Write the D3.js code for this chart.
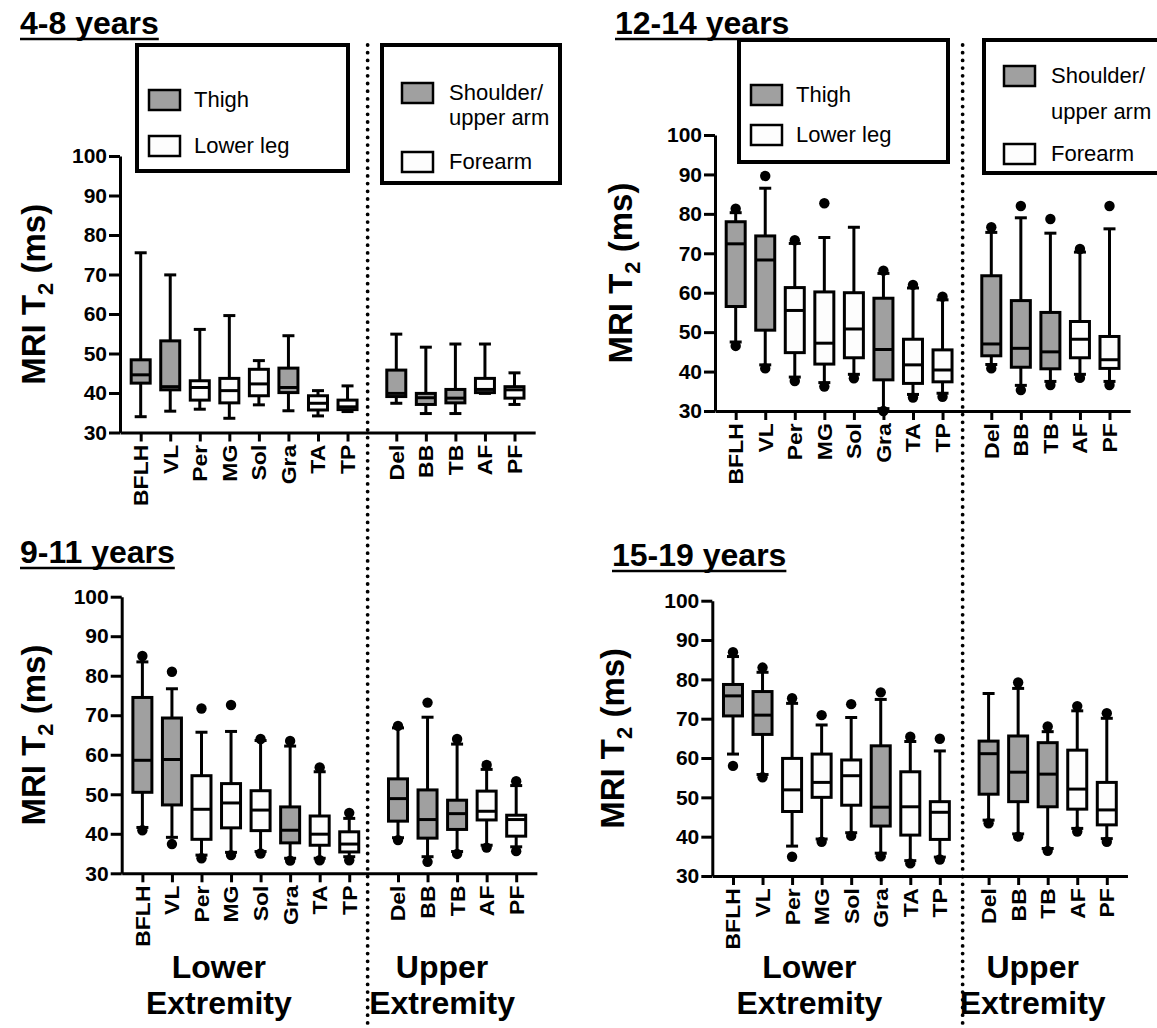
<!DOCTYPE html>
<html>
<head>
<meta charset="utf-8">
<script src="https://cdn.jsdelivr.net/npm/d3@7"></script>
<style>
  body { margin: 0; background: #fff; }
  svg { display: block; font-family: "Liberation Sans", Arial, sans-serif; }
</style>
</head>
<body>
<svg id="chart" width="1157" height="1028"></svg>
<script>
// Categories
const lowerMuscles = ['BFLH', 'VL', 'Per', 'MG', 'Sol', 'Gra', 'TA', 'TP'];
const upperMuscles = ['Del', 'BB', 'TB', 'AF', 'PF'];
const lowerGroup = ['Thigh', 'Thigh', 'Lower leg', 'Lower leg', 'Lower leg', 'Thigh', 'Lower leg', 'Lower leg'];
const upperGroup = ['Shoulder', 'Shoulder', 'Shoulder', 'Forearm', 'Forearm'];
const yTicks = [30, 40, 50, 60, 70, 80, 90, 100];

// Box stats per muscle: [dotLow, whiskerLow, q1, median, q3, whiskerHigh, dotHigh]
const age4to8 = [
  [null, 34.0, 42.5, 44.6, 48.4, 75.5, null],
  [null, 35.4, 40.8, 41.6, 53.2, 69.9, null],
  [null, 35.9, 38.2, 41.4, 43.1, 56.1, null],
  [null, 33.6, 37.5, 40.6, 43.7, 59.6, null],
  [null, 37.0, 39.3, 42.3, 46.0, 48.2, null],
  [null, 35.5, 40.1, 41.4, 46.3, 54.5, null],
  [null, 34.2, 35.7, 37.4, 39.3, 40.6, null],
  [null, 35.3, 35.8, 36.5, 38.2, 41.8, null],
  [null, 37.4, 39.1, 39.9, 45.8, 54.9, null],
  [null, 34.8, 37.1, 38.8, 39.9, 51.6, null],
  [null, 34.8, 37.5, 38.7, 40.9, 52.4, null],
  [null, 39.9, 40.1, 40.9, 43.7, 52.4, null],
  [null, 37.1, 38.7, 40.8, 41.6, 45.1, null]
];
const age12to14 = [
  [46.5, 47.5, 56.5, 72.4, 78.0, 80.3, 81.3],
  [40.8, 41.7, 50.5, 68.3, 74.4, 86.5, 89.6],
  [37.6, 38.6, 44.8, 55.5, 61.3, 72.5, 73.3],
  [36.2, 37.2, 41.9, 47.2, 60.2, 74.0, 82.7],
  [38.3, 39.3, 43.5, 50.8, 60.0, 76.6, null],
  [30.0, 30.6, 37.9, 45.6, 58.6, 64.9, 65.6],
  [33.4, 34.2, 37.0, 41.7, 48.2, 61.2, 62.0],
  [33.6, 34.5, 37.4, 40.4, 45.5, 58.2, 59.0],
  [40.8, 41.8, 44.0, 47.0, 64.3, 75.3, 76.6],
  [35.3, 36.5, 41.1, 45.9, 58.0, 79.0, 82.0],
  [36.6, 37.5, 40.7, 45.0, 55.0, 75.1, 78.7],
  [38.4, 39.3, 43.5, 48.2, 52.7, 70.3, 71.1],
  [36.6, 37.5, 40.8, 43.0, 48.9, 76.2, 82.0]
];
const age9to11 = [
  [40.9, 41.6, 50.5, 58.6, 74.5, 83.5, 85.0],
  [37.4, 39.1, 47.3, 58.8, 69.3, 76.7, 81.0],
  [33.8, 34.6, 38.6, 46.2, 54.7, 65.7, 71.7],
  [34.6, 35.3, 41.5, 47.8, 52.7, 65.9, 72.6],
  [35.0, 35.5, 40.8, 46.0, 50.9, 63.6, 64.0],
  [33.2, 33.8, 37.7, 40.9, 46.8, 62.2, 63.5],
  [33.3, 33.8, 37.1, 39.9, 44.5, 55.7, 56.8],
  [33.3, 34.2, 35.4, 37.4, 40.5, 43.9, 45.3],
  [38.4, 39.0, 43.2, 48.9, 53.9, 66.8, 67.3],
  [32.9, 34.2, 38.9, 43.6, 51.1, 69.5, 73.2],
  [34.9, 35.5, 41.1, 45.1, 48.5, 62.7, 64.0],
  [36.5, 37.1, 43.5, 45.7, 50.8, 56.3, 57.4],
  [35.6, 36.7, 39.4, 43.6, 44.7, 52.2, 53.3]
];
const age15to19 = [
  [58.0, 61.0, 70.7, 75.8, 78.7, 85.8, 86.9],
  [55.1, 55.8, 66.0, 70.9, 76.9, 81.8, 83.0],
  [34.9, 37.6, 46.4, 51.9, 59.9, 73.9, 75.2],
  [38.7, 39.4, 50.0, 53.8, 61.0, 68.4, 70.9],
  [40.2, 41.0, 48.0, 55.5, 59.5, 70.3, 73.7],
  [35.0, 35.8, 42.7, 47.5, 63.1, 74.9, 76.7],
  [33.2, 33.9, 40.4, 47.6, 56.5, 64.2, 65.4],
  [34.2, 34.8, 39.3, 46.2, 48.9, 61.8, 64.9],
  [43.4, 44.2, 50.8, 61.1, 64.3, 76.4, null],
  [40.0, 40.7, 48.9, 56.4, 65.6, 77.7, 79.2],
  [36.4, 37.0, 47.6, 55.9, 63.9, 66.7, 68.0],
  [41.3, 42.1, 47.0, 52.1, 62.0, 72.0, 73.2],
  [38.7, 39.5, 43.0, 46.8, 53.8, 70.1, 71.4]
];

const GREY = '#a0a0a0';
const WHITE = '#fdfdfd';
const SLOT = 29.55;
const UPPER_START = 8.65;
const DIVIDER_SLOT = 7.68;

const svg = d3.select('#chart');

// Panel layouts
const panels = [
  { title: '4-8 years', data: age4to8, axisX: 120, yTop: 156, yBot: 432.5,
    titleX: 20, titleY: 34, yTitleX: 33, legendTop: 45,
    legL: [137, 348, 171], legR: [382, 560, 183],
    legRows: { thigh: 100, leg: 146, shoulder: [93, 118], forearm: 162 } },
  { title: '12-14 years', data: age12to14, axisX: 715, yTop: 135, yBot: 411,
    titleX: 615, titleY: 34, yTitleX: 620, legendTop: 40,
    legL: [739, 948, 162], legR: [984, 1165, 173],
    legRows: { thigh: 95, leg: 135, shoulder: [76, 112], forearm: 154 } },
  { title: '9-11 years', data: age9to11, axisX: 121.7, yTop: 596.7, yBot: 873.3,
    titleX: 20, titleY: 563, yTitleX: 33, bottom: true },
  { title: '15-19 years', data: age15to19, axisX: 712.3, yTop: 600.7, yBot: 876,
    titleX: 612, titleY: 566, yTitleX: 612, bottom: true }
];

const allMuscles = lowerMuscles.concat(upperMuscles);
const allGroups = lowerGroup.concat(upperGroup);
const slotOf = i => i < lowerMuscles.length ? i : UPPER_START + (i - lowerMuscles.length);

panels.forEach(p => {
  const g = svg.append('g');
  const x = d3.scaleLinear()
    .domain([-0.7, UPPER_START + upperMuscles.length - 1 + 0.7])
    .range([p.axisX, p.axisX + (UPPER_START + upperMuscles.length - 1 + 1.4) * SLOT]);
  const y = d3.scaleLinear().domain([30, 100]).range([p.yBot, p.yTop]);
  p.x = x;

  // Title, underlined
  const t = g.append('text')
    .attr('x', p.titleX).attr('y', p.titleY)
    .attr('font-size', 32).attr('font-weight', 'bold')
    .text(p.title);
  const tw = t.node().getComputedTextLength();
  g.append('line')
    .attr('x1', p.titleX).attr('x2', p.titleX + tw)
    .attr('y1', p.titleY + 5).attr('y2', p.titleY + 5)
    .attr('stroke', '#000').attr('stroke-width', 2.5);

  // Y axis
  const yAxis = g.append('g')
    .attr('transform', `translate(${p.axisX},0)`)
    .call(d3.axisLeft(y).tickValues(yTicks).tickSize(11).tickPadding(2).tickSizeOuter(0));
  yAxis.selectAll('path, line').attr('stroke', '#000').attr('stroke-width', 3);
  yAxis.selectAll('text')
    .attr('font-size', 21).attr('font-weight', 'bold')
    .attr('font-family', '"Liberation Sans", Arial, sans-serif').attr('fill', '#000');

  // Y axis title
  const yt = g.append('text')
    .attr('transform', `translate(${p.yTitleX + 12},${(p.yTop + p.yBot) / 2}) rotate(-90)`)
    .attr('text-anchor', 'middle')
    .attr('font-size', 33).attr('font-weight', 'bold');
  yt.append('tspan').text('MRI T');
  yt.append('tspan').attr('font-size', 22).attr('dy', 8).text('2');
  yt.append('tspan').attr('dy', -8).text(' (ms)');

  // X axis
  const xAxis = g.append('g')
    .attr('transform', `translate(0,${p.yBot})`)
    .call(d3.axisBottom(x)
      .tickValues(allMuscles.map((d, i) => slotOf(i)))
      .tickFormat((d, i) => allMuscles[i])
      .tickSize(9).tickSizeOuter(0));
  xAxis.selectAll('path, line').attr('stroke', '#000').attr('stroke-width', 3);
  xAxis.selectAll('text')
    .attr('font-size', 20).attr('font-weight', 'bold')
    .attr('font-family', '"Liberation Sans", Arial, sans-serif').attr('fill', '#000')
    .attr('text-anchor', 'end')
    .attr('dy', null)
    .attr('dominant-baseline', 'central')
    .attr('transform', 'translate(0,3) rotate(-90) scale(1.15,1)')
    .attr('x', -8).attr('y', 0);

  // Boxes
  const boxW = 19, capW = 12;
  const boxes = g.selectAll('.box')
    .data(p.data)
    .enter().append('g')
    .attr('class', 'box')
    .attr('transform', (d, i) => `translate(${x(slotOf(i))},0)`);

  boxes.append('line')
    .attr('y1', d => y(d[1])).attr('y2', d => y(d[5]))
    .attr('stroke', '#000').attr('stroke-width', 3);
  boxes.append('line')
    .attr('x1', -capW / 2).attr('x2', capW / 2)
    .attr('y1', d => y(d[5])).attr('y2', d => y(d[5]))
    .attr('stroke', '#000').attr('stroke-width', 3);
  boxes.append('line')
    .attr('x1', -capW / 2).attr('x2', capW / 2)
    .attr('y1', d => y(d[1])).attr('y2', d => y(d[1]))
    .attr('stroke', '#000').attr('stroke-width', 3);
  boxes.append('rect')
    .attr('x', -boxW / 2).attr('width', boxW)
    .attr('y', d => y(d[4])).attr('height', d => y(d[2]) - y(d[4]))
    .attr('fill', (d, i) => (allGroups[i] === 'Thigh' || allGroups[i] === 'Shoulder') ? GREY : WHITE)
    .attr('stroke', '#000').attr('stroke-width', 3);
  boxes.append('line')
    .attr('x1', -boxW / 2).attr('x2', boxW / 2)
    .attr('y1', d => y(d[3])).attr('y2', d => y(d[3]))
    .attr('stroke', '#000').attr('stroke-width', 3);
  boxes.each(function(d) {
    [d[0], d[6]].forEach(v => {
      if (v === null) return;
      d3.select(this).append('circle')
        .attr('cx', 0).attr('cy', y(v)).attr('r', 5.2).attr('fill', '#000');
    });
  });

  // Legends
  if (p.legL) {
    const lg = g.append('g');
    const swatch = (sx, cy, fill) => lg.append('rect')
      .attr('x', sx).attr('y', cy - 10).attr('width', 31).attr('height', 20)
      .attr('fill', fill).attr('stroke', '#000').attr('stroke-width', 2.5);
    const label = (tx, cy, txt) => lg.append('text')
      .attr('x', tx).attr('y', cy + 7).attr('font-size', 22).text(txt);

    lg.append('rect')
      .attr('x', p.legL[0]).attr('y', p.legendTop)
      .attr('width', p.legL[1] - p.legL[0]).attr('height', p.legL[2] - p.legendTop)
      .attr('fill', 'none').attr('stroke', '#000').attr('stroke-width', 4);
    swatch(p.legL[0] + 12, p.legRows.thigh, GREY);
    label(p.legL[0] + 57, p.legRows.thigh, 'Thigh');
    swatch(p.legL[0] + 12, p.legRows.leg, WHITE);
    label(p.legL[0] + 57, p.legRows.leg, 'Lower leg');

    lg.append('rect')
      .attr('x', p.legR[0]).attr('y', p.legendTop)
      .attr('width', p.legR[1] - p.legR[0]).attr('height', p.legR[2] - p.legendTop)
      .attr('fill', 'none').attr('stroke', '#000').attr('stroke-width', 4);
    swatch(p.legR[0] + 20, p.legRows.shoulder[0], GREY);
    label(p.legR[0] + 67, p.legRows.shoulder[0], 'Shoulder/');
    label(p.legR[0] + 67, p.legRows.shoulder[1], 'upper arm');
    swatch(p.legR[0] + 20, p.legRows.forearm, WHITE);
    label(p.legR[0] + 67, p.legRows.forearm, 'Forearm');
  }

  // Region labels below the bottom panels
  if (p.bottom) {
    const lowerC = (x(0) + x(lowerMuscles.length - 1)) / 2 - 27;
    const upperC = (x(UPPER_START) + x(UPPER_START + upperMuscles.length - 1)) / 2 - 15;
    [[lowerC, 'Lower'], [upperC, 'Upper']].forEach(([cx, word]) => {
      g.append('text').attr('x', cx).attr('y', 978)
        .attr('text-anchor', 'middle').attr('font-size', 32).attr('font-weight', 'bold')
        .text(word);
      g.append('text').attr('x', cx).attr('y', 1014)
        .attr('text-anchor', 'middle').attr('font-size', 32).attr('font-weight', 'bold')
        .text('Extremity');
    });
  }
});

// Dotted dividers running through both rows
[panels[0], panels[1]].forEach(p => {
  svg.append('line')
    .attr('x1', p.x(DIVIDER_SLOT)).attr('x2', p.x(DIVIDER_SLOT))
    .attr('y1', 45).attr('y2', 1028)
    .attr('stroke', '#000').attr('stroke-width', 3.8)
    .attr('stroke-linecap', 'round')
    .attr('stroke-dasharray', '0 7.7');
});
</script>
</body>
</html>
